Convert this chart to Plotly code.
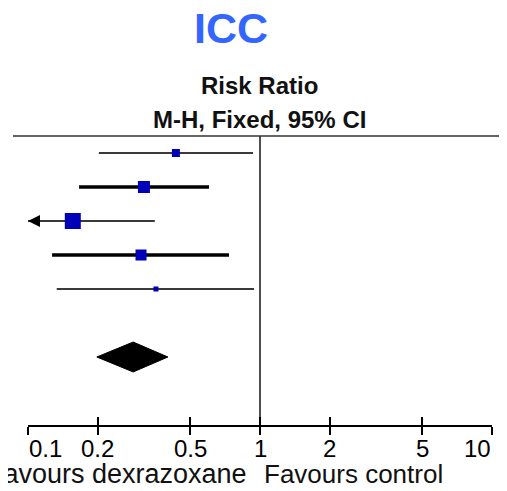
import math
import plotly.graph_objects as go

# ---------------- data ----------------
study_est = [0.434, 0.316, 0.156, 0.307, 0.356]
study_lo = [0.202, 0.166, 0.08, 0.127, 0.133]
study_hi = [0.933, 0.603, 0.352, 0.735, 0.942]
pooled_est = 0.284
pooled_lo = 0.198
pooled_hi = 0.401
tick_values = [0.1, 0.2, 0.5, 1, 2, 5, 10]
tick_labels = ["0.1", "0.2", "0.5", "1", "2", "5", "10"]
title_text = "ICC"
header_lines = ["Risk Ratio", "M-H, Fixed, 95% CI"]
favours_left = "Favours dexrazoxane"
favours_right = "Favours control"

# ---------------- style ----------------
OFF = 8  # page body margin
W, H = 507 - OFF, 491 - OFF
ML, MR, MT, MB = 28 - OFF, 15, 136 - OFF, 66
XMIN, XMAX = 0.1, 10
marker_sizes = [8, 12, 16, 11, 5]
line_widths = [2, 3.5, 2, 3.5, 2]
line_colors = ["#3a3a3a", "#000000", "#3a3a3a", "#000000", "#3a3a3a"]
square_color = "#0000b8"
FONT = "Liberation Sans, Arial, sans-serif"
pooled_row = 6
diamond_half = 0.44

plot_w = W - ML - MR
plot_h = H - MT - MB


def px_x(px):
    return (px - OFF - ML) / plot_w


def px_y(py):
    return (H - MB - (py - OFF)) / plot_h


fig = go.Figure()

# study rows
for i in range(len(study_est)):
    fig.add_trace(go.Scatter(
        x=[study_lo[i], study_hi[i]], y=[i, i], mode="lines",
        line=dict(color=line_colors[i], width=line_widths[i]),
        hoverinfo="skip", showlegend=False))
    fig.add_trace(go.Scatter(
        x=[study_est[i]], y=[i], mode="markers",
        marker=dict(symbol="square", size=marker_sizes[i], color=square_color,
                    line=dict(width=0)),
        hoverinfo="skip", showlegend=False))

# pooled diamond
fig.add_trace(go.Scatter(
    x=[pooled_lo, pooled_est, pooled_hi, pooled_est, pooled_lo],
    y=[pooled_row, pooled_row - diamond_half, pooled_row,
       pooled_row + diamond_half, pooled_row],
    mode="lines", fill="toself", fillcolor="black",
    line=dict(color="black", width=1), hoverinfo="skip", showlegend=False))

# line of no effect
fig.add_trace(go.Scatter(
    x=[1, 1], y=[-0.5, 8.0], mode="lines",
    line=dict(color="#222222", width=1.6), hoverinfo="skip",
    showlegend=False, cliponaxis=False))

# invisible trace for overlay axis
fig.add_trace(go.Scatter(x=[1], y=[0], xaxis="x2", mode="markers",
                         marker=dict(opacity=0), hoverinfo="skip",
                         showlegend=False))

annotations = []
# truncated CI arrows
for i in range(len(study_lo)):
    if study_lo[i] < XMIN:
        annotations.append(dict(
            x=math.log10(XMIN), y=i, xref="x", yref="y", ax=12, ay=0,
            axref="pixel", ayref="pixel", text="", showarrow=True,
            arrowhead=2, arrowsize=1.2, arrowwidth=2, arrowcolor="black"))

# tick labels
for v, t in zip(tick_values, tick_labels):
    anchor = "center"
    if v == tick_values[0]:
        anchor = "left"
    elif v == tick_values[-1]:
        anchor = "right"
    annotations.append(dict(
        x=math.log10(v), y=px_y(448.5), xref="x", yref="paper",
        text=t, showarrow=False, xanchor=anchor, yanchor="middle",
        borderpad=0,
        font=dict(family=FONT, size=24, color="black")))

# favours labels
annotations.append(dict(
    x=px_x(248), y=px_y(474), xref="paper", yref="paper", text=favours_left,
    showarrow=False, xanchor="right", yanchor="middle", borderpad=0,
    font=dict(family=FONT, size=27, color="#111111")))
annotations.append(dict(
    x=px_x(263), y=px_y(474), xref="paper", yref="paper", text=favours_right,
    showarrow=False, xanchor="left", yanchor="middle", borderpad=0,
    font=dict(family=FONT, size=26, color="#111111")))

# header
annotations.append(dict(
    x=px_x(259), y=px_y(85.5), xref="paper", yref="paper",
    text="<b>%s</b>" % header_lines[0], showarrow=False,
    xanchor="center", yanchor="middle",
    font=dict(family=FONT, size=24, color="#111111")))
annotations.append(dict(
    x=px_x(259), y=px_y(119), xref="paper", yref="paper",
    text="<b>%s</b>" % header_lines[1], showarrow=False,
    xanchor="center", yanchor="middle",
    font=dict(family=FONT, size=24, color="#111111")))
# title
annotations.append(dict(
    x=px_x(231), y=px_y(28), xref="paper", yref="paper",
    text="<b>%s</b>" % title_text, showarrow=False,
    xanchor="center", yanchor="middle", borderpad=0,
    font=dict(family=FONT, size=43, color="#3366ff")))

shapes = [dict(type="line", xref="paper", yref="paper",
               x0=px_x(13), x1=px_x(507), y0=1, y1=1,
               line=dict(color="#333333", width=1.6))]

fig.update_layout(
    width=W, height=H, margin=dict(l=ML, r=MR, t=MT, b=MB),
    paper_bgcolor="white", plot_bgcolor="white",
    xaxis=dict(type="log", range=[math.log10(XMIN), math.log10(XMAX)],
               tickvals=tick_values, showticklabels=False,
               ticks="outside", ticklen=8, tickwidth=2, tickcolor="black",
               showline=True, linewidth=2, linecolor="black",
               showgrid=False, zeroline=False, fixedrange=True),
    xaxis2=dict(type="log", range=[math.log10(XMIN), math.log10(XMAX)],
                overlaying="x", anchor="y", side="bottom",
                tickvals=tick_values, showticklabels=False,
                ticks="inside", ticklen=8, tickwidth=2, tickcolor="black",
                showline=False, showgrid=False, zeroline=False,
                fixedrange=True),
    yaxis=dict(range=[8.0, -0.5], visible=False, fixedrange=True),
    annotations=annotations, shapes=shapes, showlegend=False,
)

fig.write_html("out.html")
